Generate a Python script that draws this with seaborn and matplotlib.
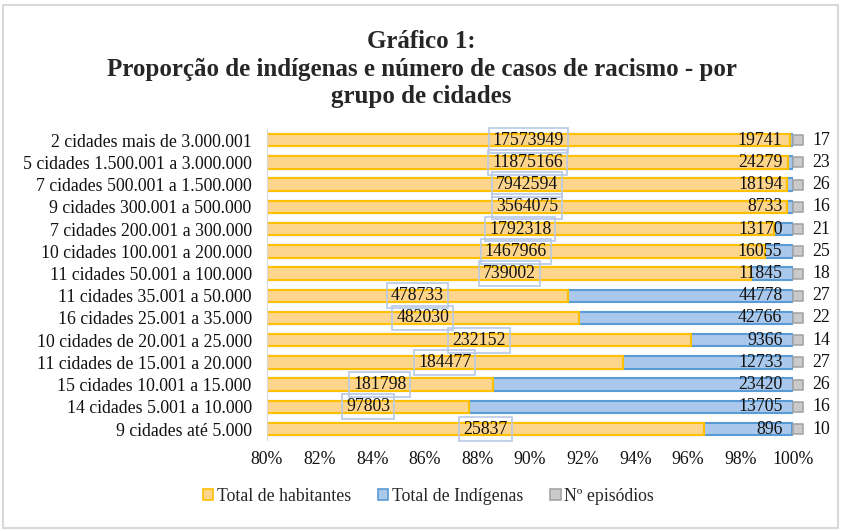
import pandas as pd
import seaborn as sns
import numpy as np
import matplotlib.pyplot as plt
from matplotlib.patches import Patch, Rectangle

grupos = ["2 cidades mais de 3.000.001", "5 cidades 1.500.001 a 3.000.000",
          "7 cidades 500.001 a 1.500.000", "9 cidades 300.001 a 500.000",
          "7 cidades 200.001 a 300.000", "10 cidades 100.001 a 200.000",
          "11 cidades 50.001 a 100.000", "11 cidades 35.001 a 50.000",
          "16 cidades 25.001 a 35.000", "10 cidades de 20.001 a 25.000",
          "11 cidades de 15.001 a 20.000", "15 cidades 10.001 a 15.000",
          "14 cidades 5.001 a 10.000", "9 cidades até 5.000"]
habitantes = [17573949, 11875166, 7942594, 3564075, 1792318, 1467966, 739002,
              478733, 482030, 232152, 184477, 181798, 97803, 25837]
indigenas = [19741, 24279, 18194, 8733, 13170, 16055, 11845,
             44778, 42766, 9366, 12733, 23420, 13705, 896]
episodios = [17, 23, 26, 16, 21, 25, 18, 27, 22, 14, 27, 26, 16, 10]

df = pd.DataFrame({"grupo": grupos, "hab": habitantes, "ind": indigenas, "ep": episodios})
df["total"] = df.hab + df.ind + df.ep
df["p_hab"] = df.hab / df.total * 100
df["p_ind"] = (df.hab + df.ind) / df.total * 100
df["p_ep"] = (df.hab + df.ind + df.ep) / df.total * 100

sns.set_style("white")
plt.rcParams["font.family"] = ["Liberation Serif", "DejaVu Serif"]
fs = 12.8

fig = plt.figure(figsize=(8.43, 5.31), dpi=100)
ax = fig.add_axes([0.3167, 0.171, 0.624, 0.586])

amarelo, amarelo_borda = "#fdd58c", "#ffc000"
azul, azul_borda = "#a9c8eb", "#5b9bd5"
cinza, cinza_borda = "#cacaca", "#a5a5a5"

sns.barplot(data=df, y="grupo", x="p_ind", color=azul, edgecolor=azul_borda,
            linewidth=1.5, width=0.56, saturation=1, ax=ax, orient="h")
sns.barplot(data=df, y="grupo", x="p_hab", color=amarelo, edgecolor=amarelo_borda,
            linewidth=1.5, width=0.56, saturation=1, ax=ax, orient="h")
ax.scatter(df.p_ep + 0.2, np.arange(len(df)), marker="s", s=60, color=cinza,
           edgecolor=cinza_borda, linewidth=1.2, zorder=5, clip_on=False)

ax.set_xlim(80, 100)
ax.set_ylim(len(df) - 0.5, -0.5)
ax.set_xticks(np.arange(80, 101, 2))
ax.set_xticklabels([f"{v}%" for v in range(80, 101, 2)])
ax.set_xlabel("")
ax.set_ylabel("")
ax.tick_params(axis="both", length=0, labelsize=fs, colors="#111111")
ax.tick_params(axis="x", pad=8)
ax.tick_params(axis="y", pad=11)
for s in ["top", "right", "bottom"]:
    ax.spines[s].set_visible(False)
ax.spines["left"].set_color("#d9d9d9")

for i, r in df.iterrows():
    xc = (80 + r.p_hab) / 2
    ax.text(xc, i, f"{r.hab}", ha="center", va="center", fontsize=fs, color="#111111",
            bbox=dict(boxstyle="square,pad=0.22", fc="none", ec="#b8cae6", lw=1.2))
    ax.text(99.6, i, f"{r.ind}", ha="right", va="center", fontsize=fs, color="#111111")
    ax.text(100.75, i, f"{r.ep}", ha="left", va="center", fontsize=fs, color="#111111",
            clip_on=False)

fig.text(0.5, 0.943, "Gráfico 1:\nProporção de indígenas e número de casos de racismo - por\ngrupo de cidades",
         ha="center", va="top", fontsize=18, fontweight="bold", linespacing=1.25)

handles = [Patch(facecolor=amarelo, edgecolor=amarelo_borda, lw=1.2),
           Patch(facecolor=azul, edgecolor=azul_borda, lw=1.2),
           Patch(facecolor=cinza, edgecolor=cinza_borda, lw=1.2)]
fig.legend(handles, ["Total de habitantes", "Total de Indígenas", "Nº episódios"],
           loc="center", bbox_to_anchor=(0.508, 0.065), ncol=3, frameon=False,
           fontsize=fs, handlelength=0.6, handleheight=0.6, handletextpad=0.2,
           columnspacing=1.5)

fig.patches.append(Rectangle((0.004, 0.006), 0.99, 0.985, transform=fig.transFigure,
                             fill=False, ec="#d9d9d9", lw=1.5))

fig.savefig("out.png", dpi=100)
